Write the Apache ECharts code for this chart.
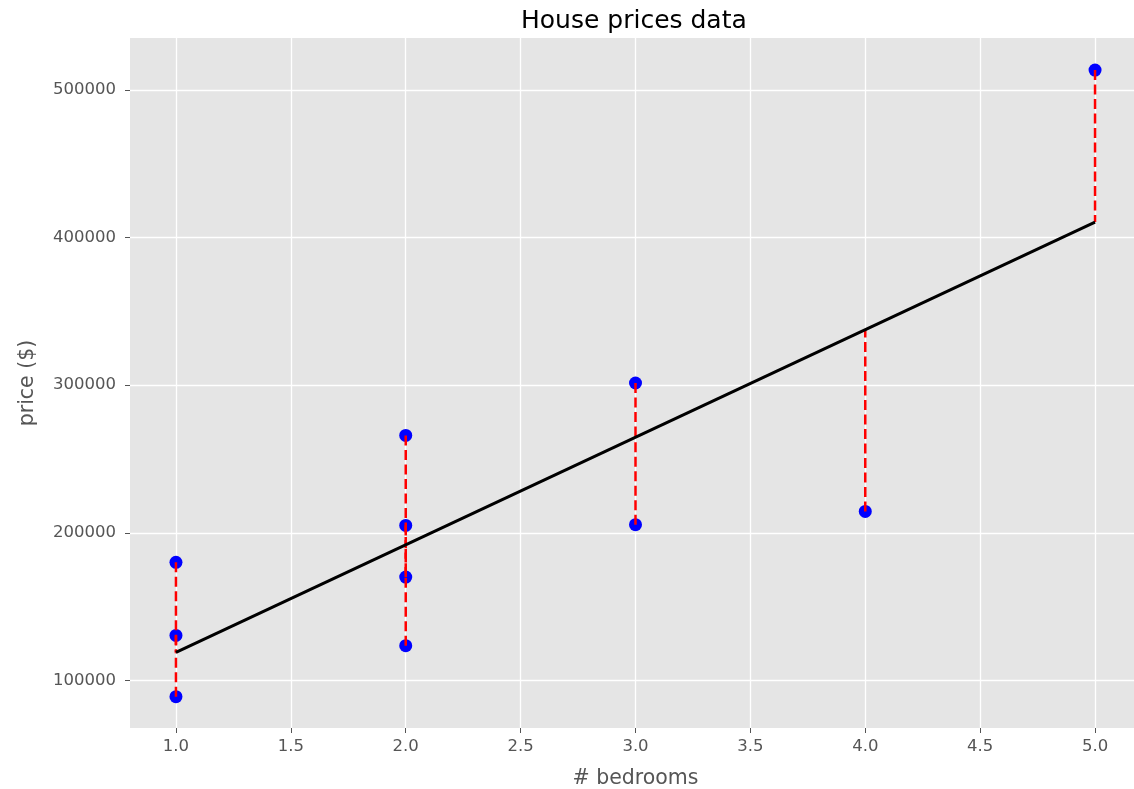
<!DOCTYPE html>
<html>
<head>
<meta charset="utf-8">
<script src="https://cdn.jsdelivr.net/npm/echarts@6/dist/echarts.min.js"></script>
<style>
html,body{margin:0;padding:0;background:#fff;}
#chart{width:1134px;height:789px;}
</style>
</head>
<body>
<div id="chart"></div>
<script>
// Data
const bedrooms = [1, 1, 1, 2, 2, 2, 2, 3, 3, 4, 5];
const prices = [180000, 130500, 89000, 266000, 205000, 170000, 123500, 301500, 205500, 214500, 513500];
// regression line end points and fitted value at each point
const fitX = [1, 5];
const fitY = [119000, 410500];
const fitted = [119000, 119000, 119000, 191900, 191900, 191900, 191900, 264700, 264700, 337600, 410500];
const xTicks = [1.0, 1.5, 2.0, 2.5, 3.0, 3.5, 4.0, 4.5, 5.0];
const yTicks = [100000, 200000, 300000, 400000, 500000];
const titleText = 'House prices data';
const xName = '# bedrooms';
const yName = 'price ($)';

const font = 'DejaVu Sans';
const chart = echarts.init(document.getElementById('chart'), null, {renderer: 'canvas'});

const series = [];
bedrooms.forEach(function (b, i) {
  series.push({
    type: 'line',
    data: [[b, prices[i]], [b, fitted[i]]],
    symbol: 'none',
    silent: true,
    lineStyle: {color: '#ff0000', width: 2.5, type: [10, 4.5]},
    z: 3
  });
});
series.push({
  type: 'line',
  data: fitX.map(function (x, i) { return [x, fitY[i]]; }),
  symbol: 'none',
  silent: true,
  lineStyle: {color: '#000000', width: 3},
  z: 3
});
series.push({
  type: 'scatter',
  data: bedrooms.map(function (b, i) { return [b, prices[i]]; }),
  symbol: 'circle',
  symbolSize: 13,
  itemStyle: {color: '#0000ff', opacity: 1},
  z: 2
});

chart.setOption({
  animation: false,
  backgroundColor: '#ffffff',
  title: {
    text: titleText,
    left: 516,
    top: 4,
    textStyle: {fontFamily: font, fontSize: 25, fontWeight: 'normal', color: '#000000'}
  },
  grid: {
    left: 130, top: 38, width: 1011, height: 690,
    outerBoundsMode: 'none',
    containLabel: false,
    show: true, backgroundColor: '#e5e5e5', borderWidth: 0
  },
  xAxis: {
    type: 'value',
    min: 0.8, max: 5.2,
    name: xName,
    nameLocation: 'middle',
    nameGap: 40,
    nameTextStyle: {fontFamily: font, fontSize: 20.5, color: '#555555'},
    axisLine: {show: false},
    axisTick: {show: true, inside: false, length: 5, lineStyle: {color: '#555555', width: 1}, customValues: xTicks},
    axisLabel: {
      fontFamily: font, fontSize: 16.5, color: '#555555', margin: 10,
      customValues: xTicks,
      formatter: function (v) { return v.toFixed(1); }
    },
    splitLine: {show: true, lineStyle: {color: '#ffffff', width: 1.3}}
  },
  yAxis: {
    type: 'value',
    min: 67750, max: 535250,
    name: yName,
    nameLocation: 'middle',
    nameGap: 92,
    nameTextStyle: {fontFamily: font, fontSize: 20.5, color: '#555555'},
    axisLine: {show: false},
    axisTick: {show: true, inside: false, length: 5, lineStyle: {color: '#555555', width: 1}, customValues: yTicks},
    axisLabel: {
      fontFamily: font, fontSize: 16.5, color: '#555555', margin: 14,
      customValues: yTicks,
      formatter: function (v) { return String(v); }
    },
    splitLine: {show: true, lineStyle: {color: '#ffffff', width: 1.3}}
  },
  series: series
});
</script>
</body>
</html>
